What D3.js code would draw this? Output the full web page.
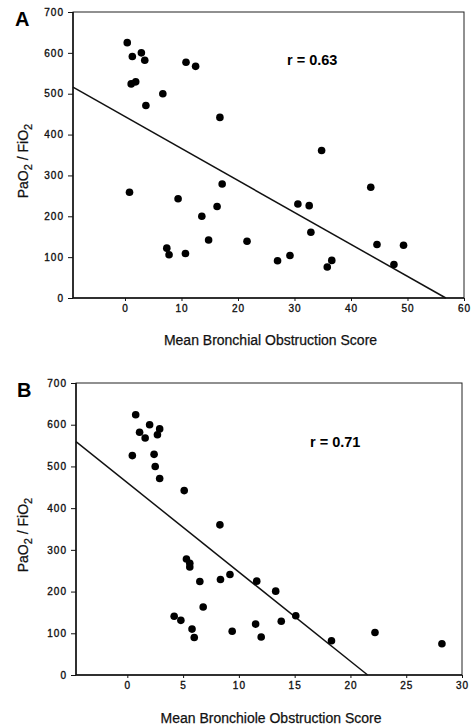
<!DOCTYPE html>
<html>
<head>
<meta charset="utf-8">
<script src="https://cdn.jsdelivr.net/npm/d3@7"></script>
<style>
    body { margin: 0; background: #fff; }
    svg { display: block; font-family: Arial, "Liberation Sans", sans-serif; }
    .tick text { font-size: 10px; letter-spacing: 1px; fill: #111; stroke: #111; stroke-width: 0.35px; }
    .tick line { stroke: #111; }
    .labs { font-size: 14px; fill: #111; stroke: #111; stroke-width: 0.25px; }
</style>
</head>
<body>
<div id="wrapper"></div>
<script>
// Panel A: bronchial score vs PaO2/FiO2
var bronchialScore = [0.4, 1.3, 2.9, 3.5, 1.1, 1.9, 3.7, 6.7, 10.8, 12.5, 16.8,
    0.8, 9.4, 13.6, 16.3, 17.2, 30.6, 32.6, 34.8, 43.5, 32.9,
    7.4, 7.8, 10.7, 14.8, 21.6, 27.0, 29.2, 35.8, 36.6, 44.6, 47.6, 49.3];
var bronchialRatio = [625, 591, 600, 582, 524, 529, 471, 500, 577, 567, 442,
    259, 243, 200, 224, 279, 230, 226, 361, 271, 161,
    122, 106, 109, 142, 139, 91, 104, 76, 92, 131, 82, 129];

// Panel B: bronchiole score vs PaO2/FiO2
var bronchioleScore = [0.75, 1.1, 1.6, 2.0, 2.9, 2.7, 0.45, 2.4, 2.5, 2.9,
    5.1, 8.3, 5.3, 5.6, 5.6, 6.5, 8.35, 9.2, 11.6, 13.3, 6.8,
    4.2, 4.8, 5.8, 6.0, 9.4, 11.5, 12.0, 13.8, 15.1, 18.3, 22.2, 28.2];
var bronchioleRatio = [624, 582, 568, 600, 590, 576, 526, 529, 500, 471,
    442, 360, 278, 268, 259, 224, 229, 241, 225, 201, 163,
    141, 131, 110, 90, 105, 122, 91, 129, 142, 82, 102, 75];

// regression lines: [intercept, slope]
var bronchialFit = [444, -7.82];
var bronchioleFit = [461, -21.4];

var ratioTicks = [0, 100, 200, 300, 400, 500, 600, 700];
var bronchialTicks = [0, 10, 20, 30, 40, 50, 60];
var bronchioleTicks = [0, 5, 10, 15, 20, 25, 30];

var width = 473, height = 728;

var panels = [
    { letter: "A", xs: bronchialScore, ys: bronchialRatio, fit: bronchialFit, ticks: bronchialTicks,
      xDomain: [-9.2, 60], box: { left: 73, right: 464, top: 12, bottom: 298 },
      r: "r = 0.63", rPos: [287, 65], xLabel: "Mean Bronchial Obstruction Score", xLabelY: 345 },
    { letter: "B", xs: bronchioleScore, ys: bronchioleRatio, fit: bronchioleFit, ticks: bronchioleTicks,
      xDomain: [-4.6, 30], box: { left: 76, right: 462, top: 383, bottom: 675 },
      r: "r = 0.71", rPos: [310, 447], xLabel: "Mean Bronchiole Obstruction Score", xLabelY: 723 }
];

// Function: Creating SVG canvas
var createCanvas = function() {
    return d3.select("#wrapper")
        .append("svg")
        .attr("width", width)
        .attr("height", height);
};

// Function: Drawing one panel
var drawPanel = function(svg, p) {
    var b = p.box;
    var x = d3.scaleLinear().domain(p.xDomain).range([b.left, b.right]);
    var y = d3.scaleLinear().domain([0, 700]).range([b.bottom, b.top]);

    // frame
    svg.append("rect")
        .attr("x", b.left)
        .attr("y", b.top)
        .attr("width", b.right - b.left)
        .attr("height", b.bottom - b.top)
        .attr("fill", "none")
        .attr("stroke", "#222")
        .attr("stroke-width", 1);

    svg.append("g")
        .attr("transform", "translate(0," + b.bottom + ")")
        .call(d3.axisBottom(x).tickValues(p.ticks).tickSize(3).tickPadding(4).tickSizeOuter(0))
        .call(function(g) { g.select(".domain").remove(); });

    svg.append("g")
        .attr("transform", "translate(" + b.left + ",0)")
        .call(d3.axisLeft(y).tickValues(ratioTicks).tickSize(5).tickPadding(4).tickSizeOuter(0))
        .call(function(g) { g.select(".domain").remove(); });

    // left and bottom axis lines a bit heavier
    svg.append("path")
        .attr("d", "M" + b.left + "," + b.top + "V" + b.bottom + "H" + b.right)
        .attr("fill", "none")
        .attr("stroke", "#111")
        .attr("stroke-width", 1.5);

    // regression line, clipped at y = 0
    var x0 = p.xDomain[0];
    var x1 = -p.fit[0] / p.fit[1];
    svg.append("line")
        .attr("x1", x(x0))
        .attr("y1", y(p.fit[0] + p.fit[1] * x0))
        .attr("x2", x(x1))
        .attr("y2", y(0))
        .attr("stroke", "#111")
        .attr("stroke-width", 1.5);

    svg.selectAll(null)
        .data(d3.range(p.xs.length))
        .enter()
        .append("circle")
        .attr("cx", function(i) { return x(p.xs[i]); })
        .attr("cy", function(i) { return y(p.ys[i]); })
        .attr("r", 3.8)
        .attr("fill", "#000");

    svg.append("text")
        .text(p.r)
        .attr("x", p.rPos[0])
        .attr("y", p.rPos[1])
        .style("font-size", "14.5px")
        .style("font-weight", "bold");

    svg.append("text")
        .text(p.letter)
        .attr("x", p.letter == "A" ? 15 : 17)
        .attr("y", b.top + 14)
        .style("font-size", "20px")
        .style("font-weight", "bold");

    svg.append("text")
        .text(p.xLabel)
        .attr("x", (b.left + b.right) / 2 + 2)
        .attr("y", p.xLabelY)
        .style("text-anchor", "middle")
        .classed("labs", true);

    var yl = svg.append("text")
        .attr("transform", "translate(28," + ((b.top + b.bottom) / 2 + 6) + ") rotate(-90)")
        .style("text-anchor", "middle")
        .classed("labs", true);
    yl.append("tspan").text("PaO");
    yl.append("tspan").text("2").attr("dy", 4).style("font-size", "11px");
    yl.append("tspan").text(" / FiO").attr("dy", -4);
    yl.append("tspan").text("2").attr("dy", 4).style("font-size", "11px");
};

var svg = createCanvas();
panels.forEach(function(p) { drawPanel(svg, p); });
</script>
</body>
</html>
